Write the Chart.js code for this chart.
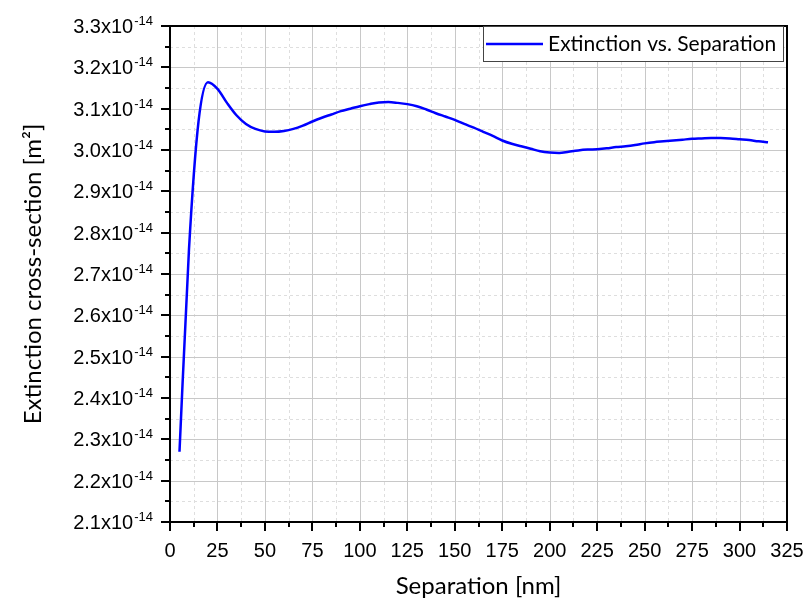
<!DOCTYPE html>
<html>
<head>
<meta charset="utf-8">
<title>Extinction vs. Separation</title>
<script src="https://cdn.jsdelivr.net/npm/chart.js@4/dist/chart.umd.min.js"></script>
<style>
  html, body { margin: 0; padding: 0; background: #fff; }
  canvas { display: block; }
</style>
</head>
<body>
<canvas id="chartExtinction" width="806" height="601"></canvas>
<script>
// Separation between particles [nm]
const separation = [
  5, 10, 15, 20, 25, 30, 35, 40, 45, 50, 55, 60, 65, 70, 75, 80,
  85, 90, 95, 100, 105, 110, 115, 120, 125, 130, 135, 140, 145, 150, 155, 160,
  165, 170, 175, 180, 185, 190, 195, 200, 205, 210, 215, 220, 225, 230, 235, 240,
  245, 250, 255, 260, 265, 270, 275, 280, 285, 290, 295, 300, 305, 310, 315
];

// Extinction cross-section, in units of 1e-14 m^2
const extinction = [
  2.270, 2.760, 3.068, 3.164, 3.148, 3.114, 3.084, 3.063, 3.051, 3.045, 3.044, 3.046, 3.051, 3.059, 3.069, 3.078,
  3.086, 3.094, 3.100, 3.106, 3.111, 3.115, 3.116, 3.114, 3.111, 3.106, 3.098, 3.089, 3.081, 3.073, 3.063, 3.054,
  3.044, 3.034, 3.023, 3.015, 3.009, 3.003, 2.997, 2.994, 2.993, 2.996, 2.999, 3.001, 3.002, 3.004, 3.007, 3.009,
  3.012, 3.016, 3.019, 3.021, 3.023, 3.025, 3.027, 3.028, 3.029, 3.029, 3.028, 3.026, 3.024, 3.021, 3.019
];

const seriesLabel = 'Extinction vs. Separation';
const xTitle = 'Separation [nm]';
const yTitle = 'Extinction cross-section [m²]';
const yExponent = '-14';

const LABEL_FONT = '"Liberation Sans", Arial, sans-serif';
const TITLE_FONT = 'Lato, "Open Sans", sans-serif';

// every second tick is a major one (x: 25 nm, y: 0.1)
function isMajor(value, step) {
  return Math.abs(value / step - Math.round(value / step)) < 1e-6;
}

// grid, frame, tick marks, tick labels, titles and legend in Origin style
const originFrame = {
  id: 'originFrame',
  beforeDatasetsDraw(chart) {
    const { ctx, chartArea: a, scales: { x, y } } = chart;
    ctx.save();
    ctx.lineWidth = 1;
    // minor grid (dashed)
    ctx.strokeStyle = '#dedede';
    ctx.setLineDash([3, 3]);
    x.ticks.forEach(t => {
      if (isMajor(t.value, 25)) return;
      const px = Math.round(x.getPixelForValue(t.value)) + 0.5;
      ctx.beginPath(); ctx.moveTo(px, a.top); ctx.lineTo(px, a.bottom); ctx.stroke();
    });
    y.ticks.forEach(t => {
      if (isMajor(t.value, 0.1)) return;
      const py = Math.round(y.getPixelForValue(t.value)) + 0.5;
      ctx.beginPath(); ctx.moveTo(a.left, py); ctx.lineTo(a.right, py); ctx.stroke();
    });
    // major grid (solid)
    ctx.setLineDash([]);
    ctx.strokeStyle = '#c8c8c8';
    x.ticks.forEach(t => {
      if (!isMajor(t.value, 25)) return;
      const px = Math.round(x.getPixelForValue(t.value)) + 0.5;
      ctx.beginPath(); ctx.moveTo(px, a.top); ctx.lineTo(px, a.bottom); ctx.stroke();
    });
    y.ticks.forEach(t => {
      if (!isMajor(t.value, 0.1)) return;
      const py = Math.round(y.getPixelForValue(t.value)) + 0.5;
      ctx.beginPath(); ctx.moveTo(a.left, py); ctx.lineTo(a.right, py); ctx.stroke();
    });
    ctx.restore();
  },
  afterDatasetsDraw(chart) {
    const { ctx, chartArea: a, scales: { x, y } } = chart;
    ctx.save();

    // tick marks
    ctx.strokeStyle = '#000';
    ctx.lineWidth = 2;
    x.ticks.forEach(t => {
      const px = Math.round(x.getPixelForValue(t.value));
      const len = isMajor(t.value, 25) ? 9 : 5;
      ctx.beginPath(); ctx.moveTo(px, a.bottom); ctx.lineTo(px, a.bottom + len); ctx.stroke();
    });
    y.ticks.forEach(t => {
      const py = Math.round(y.getPixelForValue(t.value));
      const len = isMajor(t.value, 0.1) ? 9 : 5;
      ctx.beginPath(); ctx.moveTo(a.left, py); ctx.lineTo(a.left - len, py); ctx.stroke();
    });

    // frame
    ctx.strokeRect(a.left, a.top, a.right - a.left, a.bottom - a.top);

    // x tick labels
    ctx.fillStyle = '#000';
    ctx.font = '20px ' + LABEL_FONT;
    ctx.textAlign = 'center';
    ctx.textBaseline = 'alphabetic';
    x.ticks.forEach(t => {
      if (!isMajor(t.value, 25)) return;
      ctx.fillText(String(Math.round(t.value)), x.getPixelForValue(t.value), a.bottom + 35);
    });

    // y tick labels with superscript exponent
    ctx.textAlign = 'left';
    y.ticks.forEach(t => {
      if (!isMajor(t.value, 0.1)) return;
      const py = y.getPixelForValue(t.value);
      const base = t.value.toFixed(1) + 'x10';
      ctx.font = '20px ' + LABEL_FONT;
      const w1 = ctx.measureText(base).width;
      ctx.font = '13px ' + LABEL_FONT;
      const w2 = ctx.measureText(yExponent).width;
      const right = a.left - 17;
      ctx.font = '20px ' + LABEL_FONT;
      ctx.fillText(base, right - w2 - w1 - 1, py + 7);
      ctx.font = '13px ' + LABEL_FONT;
      ctx.fillText(yExponent, right - w2, py - 1);
    });

    // axis titles
    ctx.font = '24px ' + TITLE_FONT;
    ctx.textAlign = 'center';
    ctx.fillText(xTitle, (a.left + a.right) / 2, 594);
    ctx.save();
    ctx.translate(41, (a.top + a.bottom) / 2);
    ctx.rotate(-Math.PI / 2);
    ctx.fillText(yTitle, 0, 0);
    ctx.restore();

    // legend box
    const ds = chart.data.datasets[0];
    ctx.fillStyle = '#fff';
    ctx.fillRect(483, a.top, 301, 36);
    ctx.strokeStyle = '#444';
    ctx.lineWidth = 1;
    ctx.strokeRect(483.5, a.top + 0.5, 300, 35);
    ctx.strokeStyle = ds.borderColor;
    ctx.lineWidth = ds.borderWidth;
    ctx.beginPath(); ctx.moveTo(486, a.top + 18); ctx.lineTo(543, a.top + 18); ctx.stroke();
    ctx.fillStyle = '#000';
    ctx.font = '21px ' + TITLE_FONT;
    ctx.textAlign = 'left';
    ctx.fillText(ds.label, 548, a.top + 25);

    ctx.restore();
  }
};

document.addEventListener('DOMContentLoaded', function() {
  const ctx = document.getElementById('chartExtinction');
  new Chart(ctx, {
    type: 'line',
    data: {
      datasets: [{
        label: seriesLabel,
        data: separation.map((s, i) => ({ x: s, y: extinction[i] })),
        borderColor: '#0000ff',
        borderWidth: 2.5,
        pointRadius: 0,
        cubicInterpolationMode: 'monotone',
        fill: false
      }]
    },
    options: {
      responsive: false,
      animation: false,
      devicePixelRatio: 1,
      layout: { padding: { top: 26, right: 19, left: 0, bottom: 0 } },
      plugins: { legend: { display: false }, tooltip: { enabled: false } },
      scales: {
        x: {
          type: 'linear',
          min: 0,
          max: 325,
          ticks: { display: false, stepSize: 12.5 },
          grid: { display: false },
          border: { display: false },
          afterFit(scale) { scale.height = 79; }
        },
        y: {
          type: 'linear',
          min: 2.1,
          max: 3.3,
          ticks: { display: false, stepSize: 0.05 },
          grid: { display: false },
          border: { display: false },
          afterFit(scale) { scale.width = 170; }
        }
      }
    },
    plugins: [originFrame]
  });
});
</script>
</body>
</html>
